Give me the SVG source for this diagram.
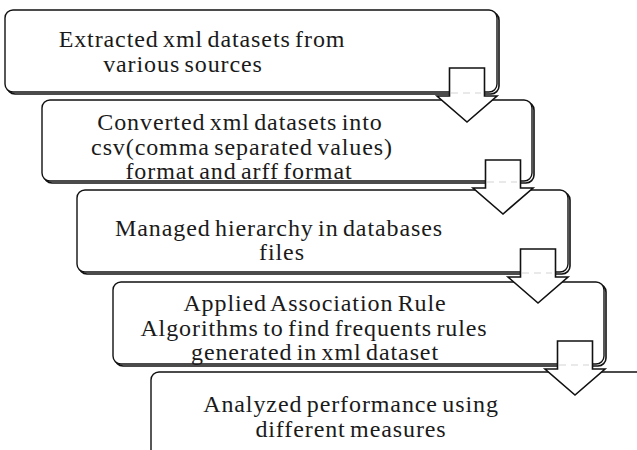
<svg xmlns="http://www.w3.org/2000/svg" width="637" height="450" viewBox="0 0 637 450">
  <style>
    .shadow { fill: none; stroke: #111; stroke-width: 1.6; }
    .box { fill: #fff; stroke: #111; stroke-width: 1.4; }
    .label { font-family: "Liberation Serif", "Times New Roman", serif; font-size: 24px; fill: #1a1a1a; text-anchor: middle; letter-spacing: 0.9px; word-spacing: -2.5px; }
    .arrow { fill: #fff; stroke: #111; stroke-width: 1.6; stroke-linejoin: miter; }
    .seam { stroke: #d4d4d4; stroke-width: 1.2; stroke-dasharray: 7 5; }
  </style>
  <defs>
    <!-- block arrow pointing down, origin at top centre of the stem -->
    <path id="down" d="M -17.5 0 H 17.5 V 28 H 30 L 0 54 L -30 28 H -17.5 Z"/>
  </defs>

  <rect width="637" height="450" fill="#fff"/>

  <g id="step1">
    <rect class="shadow" x="7" y="12" width="492" height="82" rx="8"/>
    <rect class="box" x="5" y="10" width="492" height="82" rx="8"/>
    <text class="label" x="202" y="47">Extracted xml datasets from</text>
    <text class="label" x="183" y="72">various sources</text>
  </g>

  <g id="step2">
    <rect class="shadow" x="44" y="102" width="490" height="81" rx="8"/>
    <rect class="box" x="42" y="100" width="490" height="81" rx="8"/>
    <text class="label" x="240" y="130">Converted xml datasets into</text>
    <text class="label" x="242" y="155">csv(comma separated values)</text>
    <text class="label" x="239" y="179">format and arff format</text>
  </g>

  <g id="step3">
    <rect class="shadow" x="79" y="192" width="491" height="82" rx="8"/>
    <rect class="box" x="77" y="190" width="491" height="82" rx="8"/>
    <text class="label" x="279" y="236">Managed hierarchy in databases</text>
    <text class="label" x="282" y="260">files</text>
  </g>

  <g id="step4">
    <rect class="shadow" x="115" y="284" width="491" height="82" rx="8"/>
    <rect class="box" x="113" y="282" width="491" height="82" rx="8"/>
    <text class="label" x="315" y="311">Applied Association Rule</text>
    <text class="label" x="314" y="336">Algorithms to find frequents rules</text>
    <text class="label" x="315" y="360">generated in xml dataset</text>
  </g>

  <g id="step5">
    <rect class="shadow" x="153" y="374" width="500" height="100" rx="8"/>
    <rect class="box" x="151" y="372" width="500" height="100" rx="8"/>
    <text class="label" x="351" y="412">Analyzed performance using</text>
    <text class="label" x="351" y="437">different measures</text>
  </g>

  <g id="connectors">
    <use href="#down" class="arrow" x="467" y="68"/>
    <line class="seam" x1="451" y1="93" x2="481" y2="93"/>
    <use href="#down" class="arrow" x="503" y="160"/>
    <line class="seam" x1="487" y1="182" x2="517" y2="182"/>
    <use href="#down" class="arrow" x="538" y="249"/>
    <line class="seam" x1="522" y1="273" x2="552" y2="273"/>
    <use href="#down" class="arrow" x="575" y="341"/>
    <line class="seam" x1="559" y1="365" x2="589" y2="365"/>
  </g>
</svg>
